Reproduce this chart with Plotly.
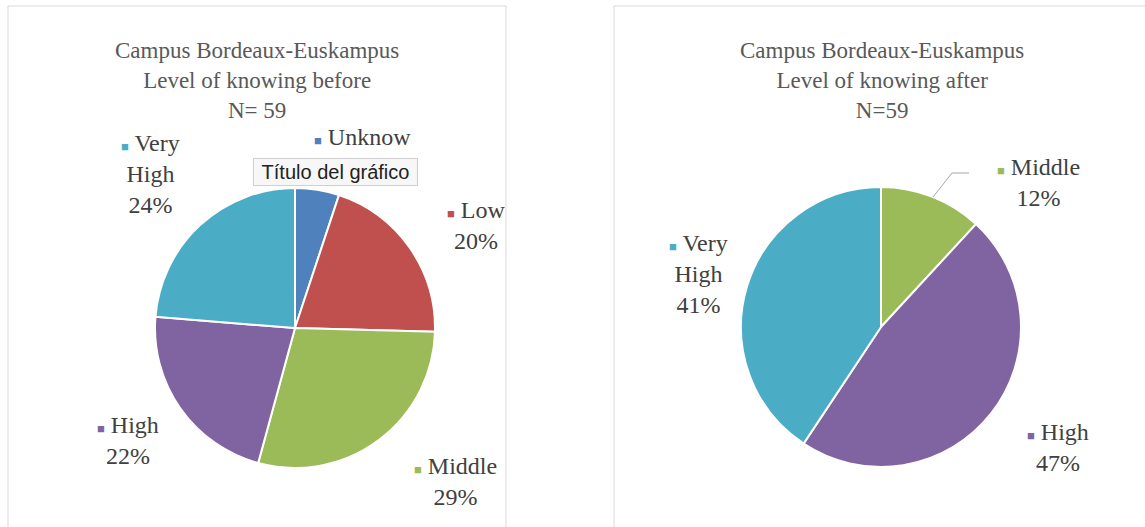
import plotly.graph_objects as go

# ---- data ----
before_labels = ["Unknow", "Low", "Middle", "High", "Very High"]
before_counts = [3, 12, 17, 13, 14]
after_labels = ["Middle", "High", "Very High"]
after_counts = [7, 28, 24]

colors = {"Unknow": "#4F81BD", "Low": "#C0504D", "Middle": "#9BBB59",
          "High": "#8064A2", "Very High": "#4BACC6"}

title_before = "Campus Bordeaux-Euskampus<br>Level of knowing before<br>N= 59"
title_after = "Campus Bordeaux-Euskampus<br>Level of knowing after<br>N=59"

# labels whose percentage is hidden behind the Excel tooltip in the source image
hidden_pct = ["Unknow"]

W, H = 1145, 527
SERIF = "Liberation Serif"
TXT = "#404040"

def px(x):
    return x / W

def py(y):
    return 1 - y / H

fig = go.Figure()

fig.add_trace(go.Pie(
    labels=before_labels, values=before_counts, sort=False, direction="clockwise",
    rotation=0, marker=dict(colors=[colors[l] for l in before_labels], line=dict(color="white", width=2)),
    textinfo="none", hoverinfo="label+percent", showlegend=False,
    domain=dict(x=[px(155), px(435)], y=[py(468), py(188)]),
))
fig.add_trace(go.Pie(
    labels=after_labels, values=after_counts, sort=False, direction="clockwise",
    rotation=0, marker=dict(colors=[colors[l] for l in after_labels], line=dict(color="white", width=2)),
    textinfo="none", hoverinfo="label+percent", showlegend=False,
    domain=dict(x=[px(741), px(1021)], y=[py(467), py(187)]),
))

shapes = [
    dict(type="rect", xref="paper", yref="paper", x0=px(8), x1=px(506), y0=-0.05, y1=py(6),
         line=dict(color="#D9D9D9", width=1), fillcolor="rgba(0,0,0,0)", layer="below"),
    dict(type="rect", xref="paper", yref="paper", x0=px(614), x1=1.05, y0=-0.05, y1=py(6),
         line=dict(color="#D9D9D9", width=1), fillcolor="rgba(0,0,0,0)", layer="below"),
    dict(type="path", xref="paper", yref="paper",
         path=f"M {px(933)} {py(197)} L {px(952)} {py(173)} L {px(969)} {py(173)}",
         line=dict(color="#A6A6A6", width=1)),
]

annotations = [
    dict(text=title_before, x=px(257), y=py(80), xref="paper", yref="paper", showarrow=False,
         font=dict(family=SERIF, size=23, color="#595959"), xanchor="center", yanchor="middle"),
    dict(text=title_after, x=px(882), y=py(80), xref="paper", yref="paper", showarrow=False,
         font=dict(family=SERIF, size=23, color="#595959"), xanchor="center", yanchor="middle"),
]

def label_text(name, counts, names):
    pct = round(counts[names.index(name)] / sum(counts) * 100)
    sq = f"<span style='color:{colors[name]};font-size:13px'>■</span> "
    parts = name.split(" ")
    body = "<br>".join(parts)
    if name in hidden_pct:
        return sq + body
    return sq + body + f"<br>{pct}%"

before_pos = {"Unknow": (362, 137), "Low": (476, 225), "Middle": (455, 482),
              "High": (128, 440), "Very High": (150, 174)}
after_pos = {"Middle": (1038, 182), "High": (1058, 447), "Very High": (698, 274)}

for name in before_labels:
    x, y = before_pos[name]
    annotations.append(dict(text=label_text(name, before_counts, before_labels), x=px(x), y=py(y),
                            xref="paper", yref="paper", showarrow=False, align="center",
                            font=dict(family=SERIF, size=24, color=TXT), xanchor="center", yanchor="middle"))
for name in after_labels:
    x, y = after_pos[name]
    annotations.append(dict(text=label_text(name, after_counts, after_labels), x=px(x), y=py(y),
                            xref="paper", yref="paper", showarrow=False, align="center",
                            font=dict(family=SERIF, size=24, color=TXT), xanchor="center", yanchor="middle"))

# Excel chart-title tooltip overlay
annotations.append(dict(text="&nbsp;Título del gráfico&nbsp;", x=px(335), y=py(172), xref="paper", yref="paper",
                        showarrow=False, font=dict(family="Liberation Sans", size=20, color="#222222"),
                        bgcolor="#F7F7F7", bordercolor="#D0D0D0", borderwidth=1, borderpad=2,
                        xanchor="center", yanchor="middle"))

fig.update_layout(
    width=W, height=H, margin=dict(l=0, r=0, t=0, b=0),
    paper_bgcolor="white", plot_bgcolor="white",
    shapes=shapes, annotations=annotations, showlegend=False,
)

fig.write_html("out.html", config={"displayModeBar": False},
               post_script="document.body.style.margin='0';")
